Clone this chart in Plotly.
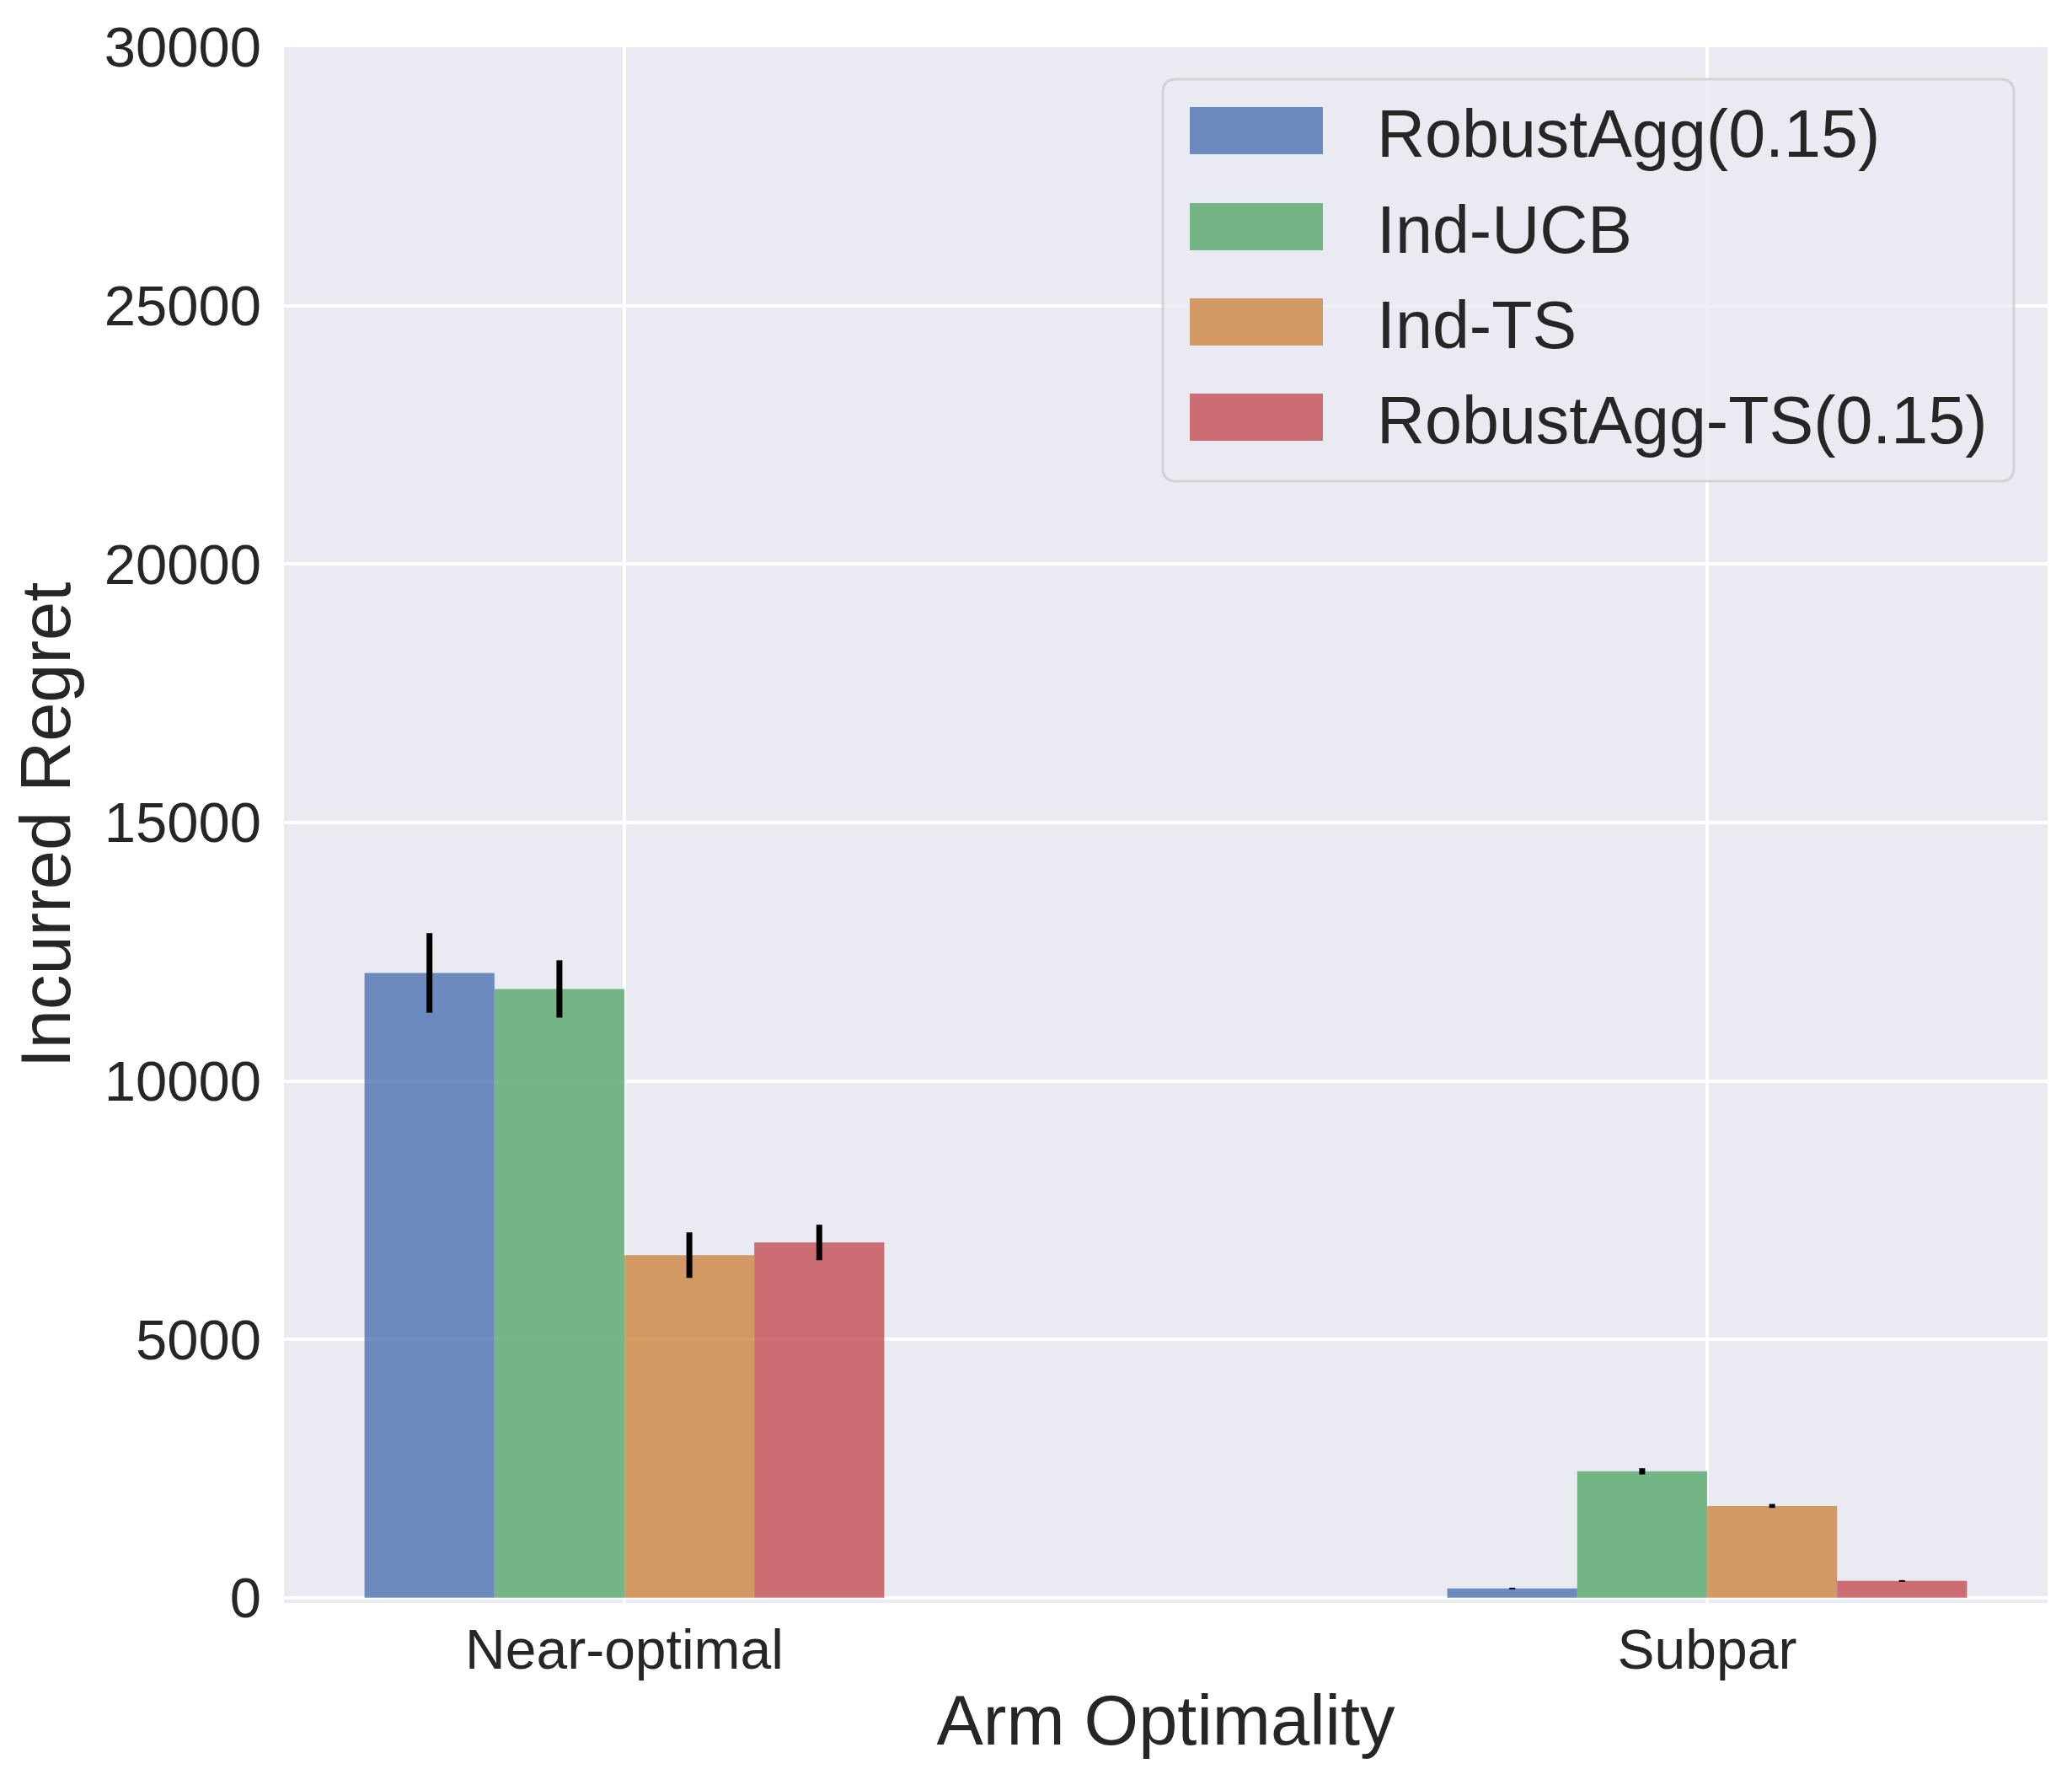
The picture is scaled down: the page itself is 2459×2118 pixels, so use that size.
import plotly.graph_objects as go

categories = ["Near-optimal", "Subpar"]
series_names = ["RobustAgg(0.15)", "Ind-UCB", "Ind-TS", "RobustAgg-TS(0.15)"]
series_colors = ["rgba(76,114,176,0.8)", "rgba(85,168,104,0.8)",
                 "rgba(204,133,64,0.8)", "rgba(196,78,82,0.8)"]
values = {
    "RobustAgg(0.15)": [12090, 180],
    "Ind-UCB": [11780, 2446],
    "Ind-TS": [6630, 1777],
    "RobustAgg-TS(0.15)": [6875, 326],
}
errors = {
    "RobustAgg(0.15)": [770, 15],
    "Ind-UCB": [555, 60],
    "Ind-TS": [440, 38],
    "RobustAgg-TS(0.15)": [343, 16],
}
y_ticks = [0, 5000, 10000, 15000, 20000, 25000, 30000]

# page has an 8px body margin, so the figure is offset by 8px
OFF = 8
W, H = 2459 - OFF, 2118 - OFF
L, R, T, B = 337 - OFF, 29, 56 - OFF, 216
plot_w = W - L - R
plot_h = H - T - B
TXT = "#262626"
FONT = "Liberation Sans, Arial, sans-serif"

fig = go.Figure()
for name, color in zip(series_names, series_colors):
    fig.add_trace(go.Bar(
        x=categories, y=values[name], name=name,
        marker=dict(color=color, line=dict(width=0)),
        error_y=dict(type="data", array=errors[name], color="black",
                     thickness=7, width=0),
        showlegend=False,
    ))

# helpers converting reference pixel positions to paper fractions
def px_x(p):
    return (p - OFF - L) / plot_w

def px_y(p):
    return (H - B - (p - OFF)) / plot_h

shapes = []
x0, x1 = px_x(1380), px_x(2390)
y0, y1 = px_y(571), px_y(94)
rx, ry = 16 / plot_w, 16 / plot_h
path = (f"M {x0+rx},{y0} L {x1-rx},{y0} Q {x1},{y0} {x1},{y0+ry} "
        f"L {x1},{y1-ry} Q {x1},{y1} {x1-rx},{y1} L {x0+rx},{y1} "
        f"Q {x0},{y1} {x0},{y1-ry} L {x0},{y0+ry} Q {x0},{y0} {x0+rx},{y0} Z")
shapes.append(dict(type="path", path=path, xref="paper", yref="paper",
                   fillcolor="rgba(234,234,242,0.8)",
                   line=dict(color="rgba(204,204,204,0.8)", width=3),
                   layer="above"))
annotations = []
row_centers = [155, 269, 382, 495]
for name, color, rc in zip(series_names, series_colors, row_centers):
    shapes.append(dict(type="rect", xref="paper", yref="paper",
                       x0=px_x(1412), x1=px_x(1570),
                       y0=px_y(rc + 28), y1=px_y(rc - 28),
                       fillcolor=color, line=dict(width=0), layer="above"))
    annotations.append(dict(text=name, xref="paper", yref="paper",
                            x=px_x(1632), y=px_y(rc + 3),
                            xanchor="left", yanchor="middle", showarrow=False,
                            font=dict(size=79, color=TXT, family=FONT)))

fig.update_layout(
    width=W, height=H,
    margin=dict(l=L, r=R, t=T, b=B, autoexpand=False),
    paper_bgcolor="white", plot_bgcolor="#EAEAF2",
    barmode="group", bargap=0.52, bargroupgap=0,
    font=dict(family=FONT, color=TXT),
    shapes=shapes, annotations=annotations,
    showlegend=False,
)
fig.update_xaxes(
    range=[-0.3144, 1.3144], showgrid=True, gridcolor="white", gridwidth=4,
    ticks="", showline=False, zeroline=False,
    tickfont=dict(size=66, color=TXT), ticklabelstandoff=11,
    title=dict(text="Arm Optimality", font=dict(size=83, color=TXT), standoff=18),
)
fig.update_yaxes(
    range=[-100, 30000], tickvals=y_ticks, ticktext=[str(v) for v in y_ticks],
    showgrid=True, gridcolor="white", gridwidth=4,
    ticks="", showline=False, zeroline=False,
    tickfont=dict(size=67, color=TXT), ticklabelstandoff=26,
    title=dict(text="Incurred Regret", font=dict(size=83, color=TXT), standoff=30),
)

fig.write_html("out.html")
